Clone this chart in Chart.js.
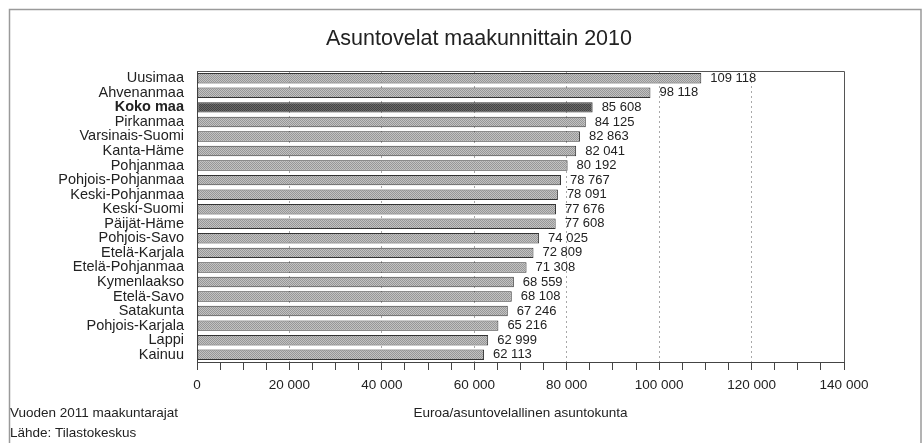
<!DOCTYPE html>
<html>
<head>
<meta charset="utf-8">
<script src="https://cdn.jsdelivr.net/npm/chart.js@4.4.1/dist/chart.umd.min.js"></script>
<style>
  html, body { margin: 0; padding: 0; background: #fff; }
  #wrap { width: 923px; height: 443px; }
</style>
</head>
<body>
<div id="wrap"><canvas id="velat"></canvas></div>
<script>
var maakunnat = [
    "Uusimaa", "Ahvenanmaa", "Koko maa", "Pirkanmaa", "Varsinais-Suomi",
    "Kanta-Häme", "Pohjanmaa", "Pohjois-Pohjanmaa", "Keski-Pohjanmaa", "Keski-Suomi",
    "Päijät-Häme", "Pohjois-Savo", "Etelä-Karjala", "Etelä-Pohjanmaa", "Kymenlaakso",
    "Etelä-Savo", "Satakunta", "Pohjois-Karjala", "Lappi", "Kainuu",
];
var velka = [
    109118, 98118, 85608, 84125, 82863,
    82041, 80192, 78767, 78091, 77676,
    77608, 74025, 72809, 71308, 68559,
    68108, 67246, 65216, 62999, 62113,
];
var xTicks = [0, 20000, 40000, 60000, 80000, 100000, 120000, 140000];
var otsikko = "Asuntovelat maakunnittain 2010";
var akseli = "Euroa/asuntovelallinen asuntokunta";
var alaviite = ["Vuoden 2011 maakuntarajat", "Lähde: Tilastokeskus"];

var fontti = "'Liberation Sans', Arial, Helvetica, sans-serif";

function muoto(n) {
    return String(n).replace(/\B(?=(\d{3})+(?!\d))/g, " ");
}

// pisterasteri palkkeihin
function rasteri(a, b) {
    var c = document.createElement("canvas");
    c.width = 2;
    c.height = 2;
    var g = c.getContext("2d");
    g.fillStyle = a;
    g.fillRect(0, 0, 2, 2);
    g.fillStyle = b;
    g.fillRect(0, 0, 1, 1);
    g.fillRect(1, 1, 1, 1);
    return g.createPattern(c, "repeat");
}
var vaalea = rasteri("#c2c2c2", "#979797");
var tumma = rasteri("#6a6a6a", "#444444");

var kehys = {
    id: "kehys",
    beforeDraw: function (chart) {
        var ctx = chart.ctx;
        ctx.save();
        ctx.strokeStyle = "#9a9a9a";
        ctx.lineWidth = 1.5;
        ctx.beginPath();
        ctx.moveTo(9.5, 443);
        ctx.lineTo(9.5, 9.5);
        ctx.lineTo(921, 9.5);
        ctx.lineTo(921, 443);
        ctx.stroke();

        // otsikko
        ctx.fillStyle = "#222";
        ctx.font = "21.5px " + fontti;
        ctx.textAlign = "center";
        ctx.textBaseline = "middle";
        ctx.fillText(otsikko, 479, 39);
        ctx.restore();
    },
    afterDatasetsDraw: function (chart) {
        var ctx = chart.ctx;
        var a = chart.chartArea;
        ctx.save();
        ctx.strokeStyle = "#555";
        ctx.lineWidth = 1;
        ctx.beginPath();
        ctx.moveTo(a.left, Math.round(a.top) + 0.5);
        ctx.lineTo(Math.round(a.right) + 0.5, Math.round(a.top) + 0.5);
        ctx.lineTo(Math.round(a.right) + 0.5, a.bottom);
        ctx.stroke();

        // arvot palkkien perään
        ctx.fillStyle = "#222";
        ctx.font = "13px " + fontti;
        ctx.textAlign = "left";
        ctx.textBaseline = "middle";
        chart.getDatasetMeta(0).data.forEach(function (bar, i) {
            ctx.fillText(muoto(velka[i]), bar.x + 9, bar.y);
        });

        // alaviite
        ctx.font = "13.5px " + fontti;
        ctx.fillText(alaviite[0], 10, 413);
        ctx.fillText(alaviite[1], 10, 433);
        ctx.restore();
    },
};

var velatCtx = document.getElementById("velat").getContext("2d");

var velatChart = new Chart(velatCtx, {
    type: "bar",
    data: {
        labels: maakunnat,
        datasets: [{
            data: velka,
            backgroundColor: maakunnat.map(function (m) { return m === "Koko maa" ? tumma : vaalea; }),
            borderColor: "#333",
            borderWidth: 1,
            borderSkipped: false,
            barPercentage: 0.72,
            categoryPercentage: 1.0,
        }],
    },
    options: {
        indexAxis: "y",
        responsive: true,
        maintainAspectRatio: false,
        animation: false,
        layout: {
            padding: { top: 71, left: 9, right: 79, bottom: 0 },
        },
        plugins: {
            legend: { display: false },
            tooltip: { enabled: false },
            title: { display: false },
        },
        scales: {
            x: {
                min: 0,
                max: 140000,
                afterFit: function (scale) { scale.height = 81; },
                ticks: {
                    stepSize: 5000,
                    autoSkip: false,
                    maxRotation: 0,
                    padding: 7,
                    color: "#222",
                    font: { family: fontti, size: 13.5 },
                    callback: function (v) {
                        return xTicks.indexOf(v) >= 0 ? muoto(v) : "";
                    },
                },
                grid: {
                    color: function (c) {
                        var v = c.tick ? c.tick.value : -1;
                        return v > 0 && v < 140000 && v % 20000 === 0 ? "#a8a8a8" : "transparent";
                    },
                    tickColor: "#444",
                    tickLength: 8,
                    tickBorderDash: [],
                },
                border: { display: true, color: "#444", dash: [2, 3] },
                title: {
                    display: true,
                    text: akseli,
                    color: "#222",
                    font: { family: fontti, size: 13.5 },
                    padding: { top: 0, bottom: 22 },
                },
            },
            y: {
                afterFit: function (scale) { scale.width = 188; },
                grid: { display: false, drawTicks: false },
                border: { display: true, color: "#444" },
                ticks: {
                    autoSkip: false,
                    padding: 13,
                    color: "#222",
                    font: function (c) {
                        return {
                            family: fontti,
                            size: 14.5,
                            weight: maakunnat[c.index] === "Koko maa" ? "bold" : "normal",
                        };
                    },
                },
            },
        },
    },
    plugins: [kehys],
});
</script>
</body>
</html>
